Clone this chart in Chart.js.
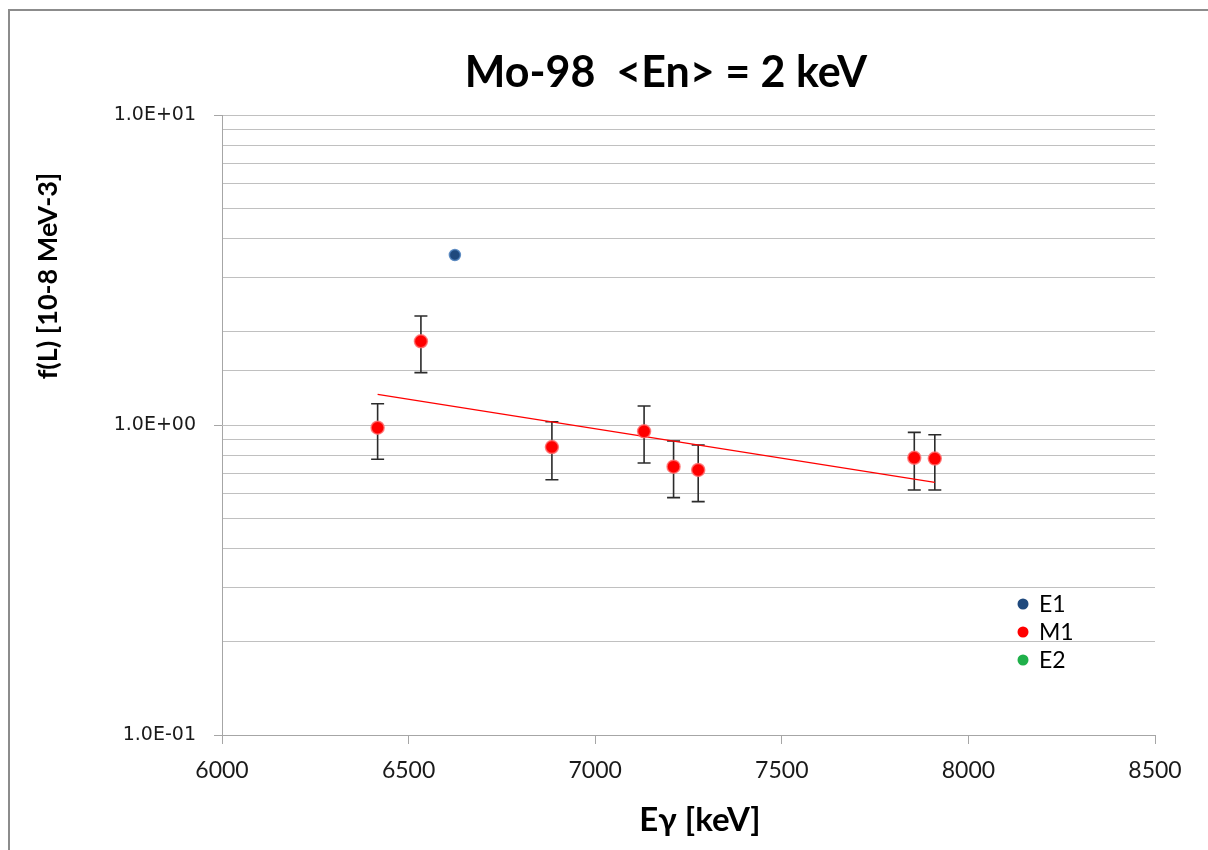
<!DOCTYPE html>
<html>
<head>
<meta charset="utf-8">
<title>Mo-98 &lt;En&gt; = 2 keV</title>
<script src="https://cdn.jsdelivr.net/npm/chart.js@4.4.1/dist/chart.umd.min.js"></script>
<style>
    html, body { margin: 0; padding: 0; background: #ffffff; }
    #chart { display: block; }
</style>
</head>
<body>
<canvas id="chart" width="1208" height="850"></canvas>
<script>
// Data
const energiesM1 = [6417, 6533, 6884, 7131, 7210, 7276, 7855, 7910];
const valuesM1   = [0.980, 1.862, 0.849, 0.954, 0.734, 0.716, 0.784, 0.779];
const errHighM1  = [1.171, 2.247, 1.025, 1.152, 0.888, 0.862, 0.947, 0.930];
const errLowM1   = [0.775, 1.475, 0.666, 0.754, 0.583, 0.566, 0.617, 0.617];

const energiesE1 = [6624];
const valuesE1   = [3.535];

const energiesE2 = [];
const valuesE2   = [];

// Trend line (exponential fit, straight on log axis)
const trendX = [6417, 7910];
const trendY = [1.256, 0.653];

const xTicks = [6000, 6500, 7000, 7500, 8000, 8500];
const yMajorTicks = [0.1, 1, 10];

const titleText = 'Mo-98  <En> = 2 keV';
const xTitle = 'E\u03B3 [keV]';
const yTitle = 'f(L) [10-8 MeV-3]';

const toPoints = (xs, ys) => xs.map((x, i) => ({ x: x, y: ys[i] }));

function sciLabel(v) {
    const exp = Math.round(Math.log10(v));
    const sign = exp < 0 ? '-' : '+';
    const digits = String(Math.abs(exp)).padStart(2, '0');
    return (v / Math.pow(10, exp)).toFixed(1) + 'E' + sign + digits;
}

function isMajor(v) {
    return yMajorTicks.some(m => Math.abs(m - v) < 1e-9);
}

// Frame, titles and legend
const decorations = {
    id: 'decorations',
    beforeDraw(chart) {
        const ctx = chart.ctx;
        ctx.save();
        ctx.fillStyle = '#ffffff';
        ctx.fillRect(0, 0, chart.width, chart.height);
        ctx.strokeStyle = '#8c8c8c';
        ctx.lineWidth = 2;
        ctx.strokeRect(9, 10, chart.width + 20, chart.height + 20);
        ctx.restore();
    },
    afterDraw(chart) {
        const ctx = chart.ctx;
        ctx.save();
        ctx.fillStyle = '#000000';
        ctx.textAlign = 'center';
        ctx.textBaseline = 'middle';

        ctx.font = 'bold 43px Lato, "Open Sans", sans-serif';
        ctx.fillText(titleText, 666, 73);

        ctx.font = 'bold 33px Lato, "Open Sans", sans-serif';
        ctx.fillText(xTitle, 700, 820);

        ctx.save();
        ctx.translate(48, 276);
        ctx.rotate(-Math.PI / 2);
        ctx.font = 'bold 27px Lato, "Open Sans", sans-serif';
        ctx.fillText(yTitle, 0, 0);
        ctx.restore();

        // legend
        const items = chart.data.datasets.filter(d => d.showInLegend);
        ctx.textAlign = 'left';
        ctx.font = '23px Lato, "Open Sans", sans-serif';
        items.forEach((d, i) => {
            const y = 604 + i * 28;
            ctx.beginPath();
            ctx.arc(1023, y, 5.5, 0, Math.PI * 2);
            ctx.fillStyle = d.backgroundColor;
            ctx.fill();
            ctx.fillStyle = '#000000';
            ctx.fillText(d.label, 1039, y + 1);
        });
        ctx.restore();
    }
};

// Error bars for M1
const errorBars = {
    id: 'errorBars',
    beforeDatasetsDraw(chart) {
        const ctx = chart.ctx;
        const xs = chart.scales.x;
        const ys = chart.scales.y;
        ctx.save();
        ctx.strokeStyle = '#2b2b2b';
        ctx.lineWidth = 1.6;
        energiesM1.forEach((e, i) => {
            const px = xs.getPixelForValue(e);
            const top = ys.getPixelForValue(errHighM1[i]);
            const bot = ys.getPixelForValue(errLowM1[i]);
            ctx.beginPath();
            ctx.moveTo(px, top);
            ctx.lineTo(px, bot);
            ctx.moveTo(px - 6.5, top);
            ctx.lineTo(px + 6.5, top);
            ctx.moveTo(px - 6.5, bot);
            ctx.lineTo(px + 6.5, bot);
            ctx.stroke();
        });
        ctx.restore();
    }
};

const chart = new Chart(document.getElementById('chart'), {
    type: 'scatter',
    data: {
        datasets: [
            {
                label: 'E1',
                showInLegend: true,
                data: toPoints(energiesE1, valuesE1),
                backgroundColor: '#1f497d',
                borderColor: 'rgba(79, 129, 189, 0.85)',
                borderWidth: 1.5,
                pointRadius: 5.5,
                order: 1
            },
            {
                label: 'M1',
                showInLegend: true,
                data: toPoints(energiesM1, valuesM1),
                backgroundColor: '#ff0000',
                borderColor: 'rgba(255, 110, 110, 0.8)',
                borderWidth: 1.5,
                pointRadius: 6.5,
                order: 1
            },
            {
                label: 'E2',
                showInLegend: true,
                data: toPoints(energiesE2, valuesE2),
                backgroundColor: '#1fb04a',
                borderColor: '#1fb04a',
                pointRadius: 5.5,
                order: 1
            },
            {
                label: 'Trend',
                type: 'line',
                data: toPoints(trendX, trendY),
                borderColor: '#ff0000',
                borderWidth: 1.3,
                pointRadius: 0,
                fill: false,
                order: 3
            }
        ]
    },
    options: {
        responsive: false,
        animation: false,
        events: [],
        layout: {
            padding: { left: 0, right: 53, top: 115, bottom: 0 }
        },
        plugins: {
            legend: { display: false },
            title: { display: false },
            tooltip: { enabled: false }
        },
        scales: {
            x: {
                type: 'linear',
                min: 6000,
                max: 8500,
                afterFit: s => { s.height = 115; },
                afterBuildTicks: s => { s.ticks = xTicks.map(v => ({ value: v })); },
                grid: {
                    drawOnChartArea: false,
                    tickLength: 9,
                    color: '#a6a6a6'
                },
                border: { color: '#a6a6a6', width: 1 },
                ticks: {
                    font: { family: 'Lato, "Open Sans", sans-serif', size: 23 },
                    color: '#1a1a1a',
                    padding: 13,
                    callback: v => String(v)
                }
            },
            y: {
                type: 'logarithmic',
                min: 0.1,
                max: 10,
                afterFit: s => { s.width = 222; },
                grid: {
                    color: '#c0c0c0',
                    lineWidth: 1,
                    tickLength: 8,
                    tickColor: c => (c.tick && isMajor(c.tick.value)) ? '#a6a6a6' : 'rgba(0,0,0,0)'
                },
                border: { color: '#a6a6a6', width: 1 },
                ticks: {
                    autoSkip: false,
                    font: { family: '"DejaVu Sans", Verdana, sans-serif', size: 19 },
                    color: '#1a1a1a',
                    padding: 18,
                    callback: v => isMajor(v) ? sciLabel(v) : ''
                }
            }
        }
    },
    plugins: [decorations, errorBars]
});
</script>
</body>
</html>
